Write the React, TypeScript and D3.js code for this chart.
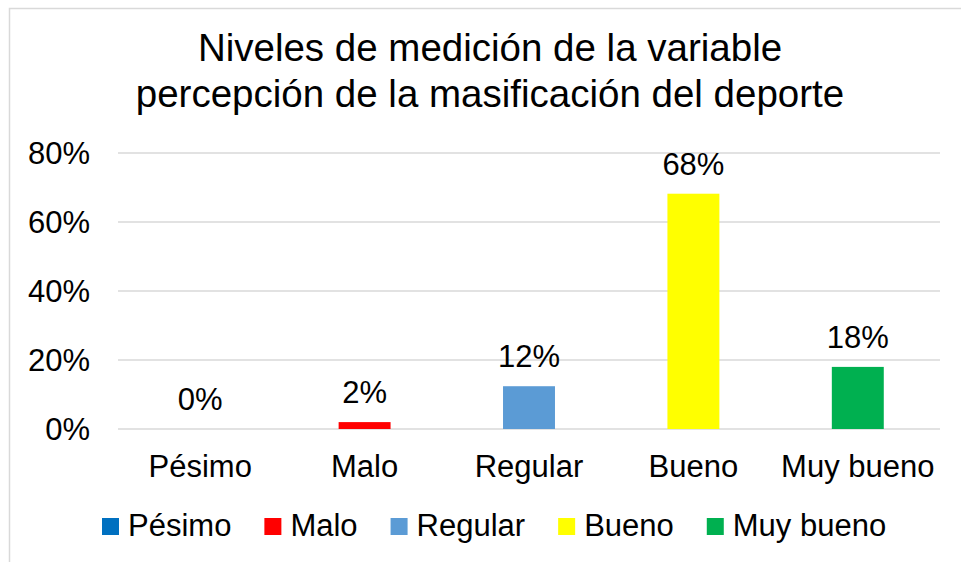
import React, { useEffect, useRef } from "react";
import * as d3 from "d3";

const categories = ["Pésimo", "Malo", "Regular", "Bueno", "Muy bueno"];
const percentValues = [0, 2, 12.4, 68.2, 18];
const barColors = ["#0070C0", "#FF0000", "#5B9BD5", "#FFFF00", "#00B050"];
const yTicks = [0, 20, 40, 60, 80];
const titleLines = [
  "Niveles de medición de la variable",
  "percepción de la masificación del deporte",
];

const FONT = "'Liberation Sans', Arial, sans-serif";

const App = () => {
  const svgRef = useRef<SVGSVGElement>(null);

  useEffect(() => {
    if (!svgRef.current) return;
    const width = 961;
    const height = 562;
    const plot = { left: 118, right: 940, top: 153, bottom: 429 };

    const svg = d3.select(svgRef.current);
    svg.selectAll("*").remove();
    svg.attr("width", width).attr("height", height);

    // chart area frame (runs off the right/bottom of the picture)
    svg
      .append("rect")
      .attr("x", 9.5)
      .attr("y", 8.5)
      .attr("width", 970)
      .attr("height", 570)
      .attr("fill", "#fff")
      .attr("stroke", "#d9d9d9")
      .attr("stroke-width", 1.5);

    // title
    svg
      .append("g")
      .selectAll("text")
      .data(titleLines)
      .enter()
      .append("text")
      .attr("x", 490)
      .attr("y", (d, i) => 61 + i * 46)
      .attr("text-anchor", "middle")
      .style("font-family", FONT)
      .style("font-size", "38.5px")
      .attr("fill", "#000")
      .text((d) => d);

    const xScale = d3
      .scaleBand()
      .domain(categories)
      .range([plot.left, plot.right])
      .paddingInner(0.684)
      .paddingOuter(0.342);

    const yScale = d3
      .scaleLinear()
      .domain([0, 80])
      .range([plot.bottom, plot.top]);

    // gridlines
    svg
      .append("g")
      .selectAll("line")
      .data(yTicks)
      .enter()
      .append("line")
      .attr("x1", plot.left)
      .attr("x2", plot.right)
      .attr("y1", (d) => yScale(d))
      .attr("y2", (d) => yScale(d))
      .attr("stroke", "#d9d9d9")
      .attr("stroke-width", 1.5);

    // y tick labels
    svg
      .append("g")
      .selectAll("text")
      .data(yTicks)
      .enter()
      .append("text")
      .attr("x", 90)
      .attr("y", (d) => yScale(d))
      .attr("dy", "0.36em")
      .attr("text-anchor", "end")
      .style("font-family", FONT)
      .style("font-size", "31px")
      .attr("fill", "#000")
      .text((d) => `${d}%`);

    const barData = categories.map((c, i) => ({
      category: c,
      value: percentValues[i],
      color: barColors[i],
    }));

    // bars
    svg
      .append("g")
      .selectAll("rect")
      .data(barData)
      .enter()
      .append("rect")
      .attr("x", (d) => xScale(d.category)!)
      .attr("width", xScale.bandwidth())
      .attr("y", (d) => yScale(d.value))
      .attr("height", (d) => yScale(0) - yScale(d.value))
      .attr("fill", (d) => d.color);

    // value labels
    svg
      .append("g")
      .selectAll("text")
      .data(barData)
      .enter()
      .append("text")
      .attr("x", (d) => xScale(d.category)! + xScale.bandwidth() / 2)
      .attr("y", (d) => yScale(d.value) - 19)
      .attr("text-anchor", "middle")
      .style("font-family", FONT)
      .style("font-size", "31px")
      .attr("fill", "#000")
      .text((d) => `${Math.round(d.value)}%`);

    // category labels
    svg
      .append("g")
      .selectAll("text")
      .data(categories)
      .enter()
      .append("text")
      .attr("x", (d) => xScale(d)! + xScale.bandwidth() / 2)
      .attr("y", 477)
      .attr("text-anchor", "middle")
      .style("font-family", FONT)
      .style("font-size", "31px")
      .attr("fill", "#000")
      .text((d) => d);

    // legend
    const legend = svg.append("g");
    let cursor = 102;
    barData.forEach((d) => {
      legend
        .append("rect")
        .attr("x", cursor)
        .attr("y", 518)
        .attr("width", 17)
        .attr("height", 17)
        .attr("fill", d.color);
      const label = legend
        .append("text")
        .attr("x", cursor + 26)
        .attr("y", 536)
        .style("font-family", FONT)
        .style("font-size", "31px")
        .attr("fill", "#000")
        .text(d.category);
      const w = (label.node() as SVGTextElement).getComputedTextLength();
      cursor += 26 + w + 33;
    });
  }, []);

  return (
    <svg
      ref={svgRef}
      style={{ position: "absolute", left: 0, top: 0, display: "block" }}
    />
  );
};

export default App;
